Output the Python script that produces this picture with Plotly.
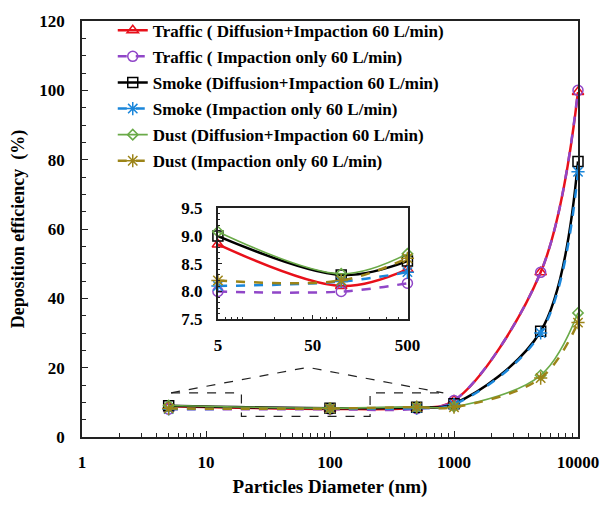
import plotly.graph_objects as go
import math

# ---- data ----
diam = [5, 100, 500, 1000, 5000, 10000]
traffic_di = [8.85, 8.1, 8.4, 10.5, 47.5, 99.5]
traffic_imp = [8.0, 8.0, 8.15, 10.5, 47.5, 100.0]
smoke_di = [9.0, 8.3, 8.55, 9.6, 30.5, 79.5]
smoke_imp = [8.1, 8.18, 8.35, 9.4, 30.0, 76.5]
dust_di = [9.08, 8.32, 8.68, 8.7, 17.8, 35.8]
dust_imp = [8.2, 8.2, 8.6, 8.6, 17.0, 33.0]

names = [
    "Traffic ( Diffusion+Impaction 60 L/min)",
    "Traffic ( Impaction only 60 L/min)",
    "Smoke (Diffusion+Impaction 60 L/min)",
    "Smoke (Impaction only 60 L/min)",
    "Dust (Diffusion+Impaction 60 L/min)",
    "Dust (Impaction only 60 L/min)",
]
series = [traffic_di, traffic_imp, smoke_di, smoke_imp, dust_di, dust_imp]
colors = ["#E8101A", "#9046C8", "#000000", "#1A86DA", "#6AAA48", "#9C8418"]
dashes = ["solid", "dash", "solid", "dash", "solid", "dash"]
widths = [2.5, 2.5, 2.5, 2.5, 1.6, 2.5]
symbols = ["triangle-up-open", "circle-open", "square-open", "asterisk-open", "diamond-open", "asterisk-open"]
msizes = [10, 10, 10, 11, 8, 11]

main_xticks = [1, 10, 100, 1000, 10000]
inset_xticks = [5, 50, 500]

FONT = "Liberation Serif"

fig = go.Figure()

for i in range(6):
    fig.add_trace(go.Scatter(
        x=diam, y=series[i], name="<b>" + names[i] + "</b>", mode="lines+markers",
        line=dict(color=colors[i], dash=dashes[i], width=widths[i], shape="spline"),
        marker=dict(symbol=symbols[i], size=msizes[i], color=colors[i],
                    line=dict(color=colors[i], width=1.5)),
        legendgroup=str(i), cliponaxis=False,
        xaxis="x", yaxis="y"))

for i in range(6):
    fig.add_trace(go.Scatter(
        x=diam[:3], y=series[i][:3], mode="lines+markers", showlegend=False,
        line=dict(color=colors[i], dash=dashes[i], width=widths[i], shape="spline"),
        marker=dict(symbol=symbols[i], size=msizes[i], color=colors[i],
                    line=dict(color=colors[i], width=1.5)),
        cliponaxis=False, xaxis="x2", yaxis="y2"))

# plot area in pixels
L, R, T, B = 82, 583, 14, 438
W, H = 611, 506

def px(xp):
    return (xp - L) / (R - L)

def py(yp):
    return (B - yp) / (B - T)

def minor_log(lo, hi):
    vals = []
    d = 1
    while d < hi:
        for m in range(2, 10):
            v = m * d
            if lo <= v <= hi:
                vals.append(v)
        d *= 10
    return vals

tickfont = dict(family=FONT, size=17, color="black")
titlefont = dict(family=FONT, size=19, color="black")

fig.update_layout(
    width=W, height=H,
    margin=dict(l=L, r=W - R, t=T, b=H - B),
    paper_bgcolor="white", plot_bgcolor="white",
    font=dict(family=FONT, color="black"),
    showlegend=True,
    legend=dict(x=0.062, y=1.02, xanchor="left", yanchor="top",
                bgcolor="rgba(0,0,0,0)", tracegroupgap=1,
                font=dict(family=FONT, size=17, color="black"),
                itemwidth=30),
    xaxis=dict(type="log", range=[0, 4], tickvals=main_xticks,
               ticktext=["<b>%d</b>" % v for v in main_xticks],
               showline=True, linecolor="#222", linewidth=1.5, mirror=True,
               ticks="inside", ticklen=6, tickcolor="#222",
               minor=dict(tickvals=minor_log(1, 10000), ticks="inside", ticklen=4, tickcolor="#222"),
               showgrid=False, zeroline=False, tickfont=tickfont,
               ticklabelstandoff=9,
               title=dict(text="<b>Particles Diameter (nm)</b>", font=titlefont, standoff=9)),
    yaxis=dict(range=[0, 120], dtick=20, tickprefix="<b>", ticksuffix="</b>",
               showline=True, linecolor="#222", linewidth=1.5, mirror=True,
               ticks="inside", ticklen=6, tickcolor="#222",
               minor=dict(dtick=5, ticks="inside", ticklen=4, tickcolor="#222"),
               showgrid=False, zeroline=False, tickfont=tickfont,
               ticklabelstandoff=12,
               title=dict(text="<b>Deposition efficiency  (%)</b>", font=dict(family=FONT, size=18, color="black"), standoff=10)),
    xaxis2=dict(type="log", range=[math.log10(5) - 0.003, math.log10(500) + 0.003], tickvals=inset_xticks,
                ticktext=["<b>%d</b>" % v for v in inset_xticks],
                domain=[px(219), px(411)], anchor="y2",
                showline=True, linecolor="#222", linewidth=1.5, mirror=True,
                ticks="inside", ticklen=5, tickcolor="#222",
                minor=dict(tickvals=minor_log(5, 500), ticks="inside", ticklen=3, tickcolor="#222"),
                showgrid=False, zeroline=False, tickfont=tickfont, ticklabelstandoff=10),
    yaxis2=dict(range=[7.5, 9.5], dtick=0.5, tickformat=".1f", tickprefix="<b>", ticksuffix="</b>",
                domain=[py(318), py(205)], anchor="x2",
                showline=True, linecolor="#222", linewidth=1.5, mirror=True,
                ticks="inside", ticklen=5, tickcolor="#222",
                minor=dict(dtick=0.1, ticks="inside", ticklen=3, tickcolor="#222"),
                showgrid=False, zeroline=False, tickfont=tickfont, ticklabelstandoff=10),
)

# dashed zoom indicator lines (decoration)
peak = [(172, 393), (310, 367), (447, 393)]
bracket = [(172, 393), (243, 393), (243, 417), (373, 417), (373, 393), (447, 393)]
for pts in (peak, bracket):
    path = "M " + " L ".join(f"{px(a):.4f},{py(b):.4f}" for a, b in pts)
    fig.add_shape(type="path", path=path, xref="paper", yref="paper",
                  line=dict(color="#222", width=1.2, dash="dash"))

fig.write_html("out.html")
